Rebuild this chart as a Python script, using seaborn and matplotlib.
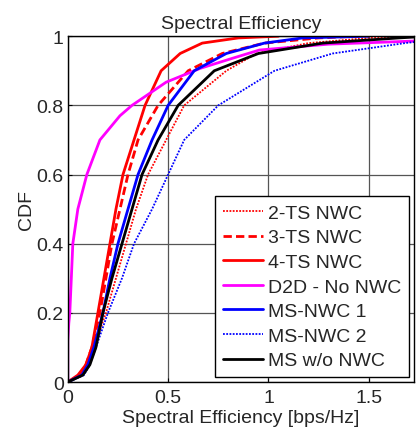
import numpy as np
import pandas as pd
import matplotlib
matplotlib.use("Agg")
import matplotlib.pyplot as plt
import seaborn as sns

# CDF curves: spectral efficiency [bps/Hz] vs CDF
cdf_levels = [0.0, 0.02, 0.05, 0.1, 0.2, 0.3, 0.4, 0.5, 0.6, 0.7, 0.8, 0.9, 0.95, 0.98, 0.995, 1.0]

ts2_x = [0.0, 0.07, 0.10, 0.13, 0.19, 0.24, 0.29, 0.34, 0.40, 0.49, 0.58, 0.79, 0.94, 1.20, 1.50, 1.70]
ts3_x = [0.0, 0.06, 0.09, 0.12, 0.16, 0.19, 0.22, 0.26, 0.30, 0.35, 0.45, 0.60, 0.77, 0.98, 1.25, 1.45]
ts4_x = [0.0, 0.05, 0.09, 0.12, 0.15, 0.18, 0.21, 0.24, 0.275, 0.33, 0.385, 0.465, 0.56, 0.67, 0.85, 1.05]
ms1_x = [0.0, 0.07, 0.10, 0.13, 0.175, 0.21, 0.25, 0.30, 0.35, 0.42, 0.50, 0.63, 0.79, 0.98, 1.17, 1.50]
ms2_x = [0.0, 0.08, 0.11, 0.14, 0.20, 0.27, 0.33, 0.42, 0.50, 0.58, 0.75, 1.03, 1.32, 1.68, 1.90, 2.00]
ms_x = [0.0, 0.075, 0.11, 0.14, 0.175, 0.22, 0.27, 0.32, 0.37, 0.45, 0.55, 0.73, 0.95, 1.27, 1.65, 1.80]

d2d_x = [0.0, 0.0, 0.005, 0.01, 0.025, 0.05, 0.095, 0.16, 0.26, 0.32, 0.49, 0.66, 0.82, 0.955, 1.30, 1.73]
d2d_y = [0.0, 0.12, 0.17, 0.2, 0.4, 0.5, 0.6, 0.7, 0.77, 0.80, 0.867, 0.907, 0.936, 0.96, 0.977, 0.986]

labels = ["2-TS NWC", "3-TS NWC", "4-TS NWC", "D2D - No NWC", "MS-NWC 1", "MS-NWC 2", "MS w/o NWC"]
colors = ["#ff0000", "#ff0000", "#ff0000", "#ff00ff", "#0000ff", "#0000ff", "#000000"]
styles = [(0, (1, 0.8)), (0, (3, 1.5)), "-", "-", "-", (0, (1, 0.8)), "-"]
widths = [1.3, 2.0, 2.0, 2.0, 2.0, 1.3, 2.0]

series = [
    (ts2_x, cdf_levels), (ts3_x, cdf_levels), (ts4_x, cdf_levels), (d2d_x, d2d_y),
    (ms1_x, cdf_levels), (ms2_x, cdf_levels), (ms_x, cdf_levels),
]

sns.set_style("ticks")
plt.rcParams["font.family"] = ["Liberation Sans", "DejaVu Sans"]

fig = plt.figure(figsize=(4.16, 4.35), dpi=100)
ax = fig.add_axes([0.163, 0.1195, 0.832, 0.795])

for (x, y), lab, c, ls, lw in zip(series, labels, colors, styles, widths):
    df = pd.DataFrame({"x": x, "y": y})
    sns.lineplot(data=df, x="x", y="y", ax=ax, color=c, linestyle=ls, linewidth=lw,
                 label=lab, sort=False, estimator=None)

ax.set_xlim(0, 1.725)
ax.set_ylim(0, 1)
ax.set_xticks([0, 0.5, 1, 1.5])
ax.set_xticklabels(["0", "0.5", "1", "1.5"])
ax.set_yticks([0, 0.2, 0.4, 0.6, 0.8, 1])
ax.set_yticklabels(["0", "0.2", "0.4", "0.6", "0.8", "1"])
ax.grid(True, color="#555555", linewidth=0.9)
ax.tick_params(direction="in", labelsize=14, length=3, color="black")
ax.tick_params(axis="x", pad=5)
ax.tick_params(axis="y", pad=3)
for s in ax.spines.values():
    s.set_color("black")
    s.set_linewidth(1.0)

ax.set_xlabel("Spectral Efficiency [bps/Hz]", fontsize=14, labelpad=2)
ax.set_ylabel("CDF", fontsize=14, labelpad=1)
ax.set_title("Spectral Efficiency", fontsize=14, pad=6)

leg = ax.legend(loc="lower right", fontsize=14, frameon=True, fancybox=False,
                edgecolor="black", framealpha=1, handlelength=2.05, handletextpad=0.26,
                labelspacing=0.36, borderpad=0.4, borderaxespad=0.25)
leg.get_frame().set_linewidth(1.0)

fig.savefig("out.png", dpi=100)
